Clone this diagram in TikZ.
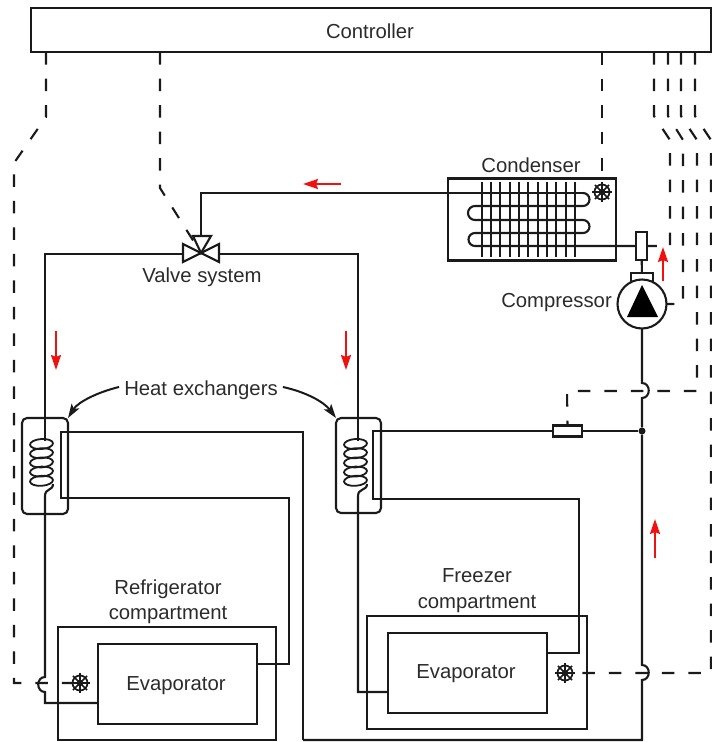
\documentclass[tikz,border=0pt]{standalone}
\usepackage{fontspec}
\setmainfont{Liberation Sans}
\usepackage{tikz}
\usetikzlibrary{arrows.meta,calc}
\definecolor{ink}{HTML}{1A1A1A}
\definecolor{txt}{HTML}{2B2B2B}
\definecolor{flow}{HTML}{F01010}
\tikzset{
  pipe/.style={draw=ink,line width=2.1pt,line join=miter},
  signal/.style={draw=ink,line width=2.1pt,dash pattern=on 12.5pt off 14pt},
  box/.style={draw=ink,line width=2.1pt,outer sep=0pt,inner sep=0pt},
  lab/.style={font=\fontsize{20.3}{25.5}\selectfont,text=txt,align=center,inner sep=0pt},
  arr/.style={-{Stealth[length=15pt,width=10pt,inset=2pt]},draw=flow,line width=2pt},
  callout/.style={-{Stealth[length=14pt,width=9pt,inset=3pt]},draw=ink,line width=2pt},
  wheel/.style={circle,draw=ink,line width=1.7pt,minimum size=15pt,inner sep=0pt,outer sep=0pt},
}
% fan symbol, \fan{name}{x,y}
\newcommand{\fan}[2]{
  \node[wheel] (#1) at (#2) {};
  \draw[ink,line width=1.5pt] (#1.center) circle (2.5);
  \foreach \a in {0,45,...,315}{
    \draw[ink,line width=1.5pt] (#1.center) -- ++(\a:10);
  }
}
% heat exchanger coil, \coil{x}{y}
\newcommand{\coil}[2]{
  \foreach \k in {0,1,2,3,4}{
    \draw[ink,line width=1.8pt,rotate around={4:(#1,#2+\k*9.2)}] (#1,#2+\k*9.2) ellipse [x radius=11.5,y radius=5];
  }
}
\begin{document}
\begin{tikzpicture}[x=1pt,y=-1pt]
\useasboundingbox (0,0) rectangle (712,742);
% controller
\node[box,minimum width=680pt,minimum height=44pt] (controller) at (371,30) {};
\node[lab] at (370,31) {Controller};
% condenser
\node[box,minimum width=168pt,minimum height=82pt] (condenser) at (532,219.5) {};
\node[lab] at (531,165) {Condenser};
\foreach \i in {0,...,10}{
  \draw[ink,line width=1.8pt] (481.7+\i*9.33,182) -- (481.7+\i*9.33,257);
}
% compressor and its valve
\node[box,minimum width=11pt,minimum height=28pt] (solenoid) at (641.5,246) {};
\node[box,minimum width=22pt,minimum height=10pt] (head) at (642,278) {};
\node[box,circle,fill=white,minimum size=49pt] (compressor) at (642,304) {};
\fill[black] (642,285) -- (658,317) -- (627,317) -- cycle;
\node[lab,anchor=east] at (612,303) {Compressor};
% heat exchangers
\node[box,rounded corners=5pt,minimum width=46pt,minimum height=96pt] (hxa) at (45,466) {};
\node[box,rounded corners=5pt,minimum width=45pt,minimum height=95pt] (hxb) at (358.5,465.5) {};
\node[lab] (hxlabel) at (201,390) {Heat exchangers};
\draw[callout] (hxlabel.west) ++(-5,-3) .. controls (98,392) and (78,402) .. (hxa.north east);
\draw[callout] (hxlabel.east) ++(5,-3) .. controls (306,392) and (324,402) .. (hxb.north west);
\coil{41.5}{444}
\coil{355.5}{444}
% compartments
\node[box,minimum width=218pt,minimum height=113pt] (fridge) at (167,683.5) {};
\node[box,minimum width=159pt,minimum height=80pt] (evapa) at (177.5,684) {};
\node[lab] at (176,685.5) {Evaporator};
\node[lab] at (168,601.5) {Refrigerator\\compartment};
\node[box,minimum width=220pt,minimum height=113pt] (freezer) at (477,672.5) {};
\node[box,minimum width=159pt,minimum height=80pt] (evapb) at (467.5,673) {};
\node[lab] at (466,674) {Evaporator};
\node[lab] at (477,590.5) {Freezer\\compartment};
% resistor and junction
\node[box,minimum width=29pt,minimum height=11pt] (resistor) at (567.5,431) {};
\node[circle,fill=ink,minimum size=7pt,inner sep=0pt] (junction) at (642,431) {};
% fans
\fan{fanc}{602,192}
\fan{fana}{80,683}
\fan{fanb}{565,673}
% refrigerant
\coordinate (valve) at (201,253);
\draw[pipe] (583,193) -- (201,193) -- (201,236);
\draw[pipe] (583,193) arc[start angle=-90,end angle=90,radius=6.5] -- (475,206)
  arc[start angle=-90,end angle=-270,radius=7] -- (583,220)
  arc[start angle=-90,end angle=90,radius=6.5] -- (475,233)
  arc[start angle=-90,end angle=-270,radius=6.5] -- (solenoid.west |- 0,246);
\draw[pipe] (solenoid) -- (head);
\draw[pipe] (183,254) -- (45,254) -- (45,441);
\draw[pipe] (219,254) -- (358,254) -- (358,441);
\draw[pipe] (53,484) .. controls (53,491) and (45,488) .. (45,496) -- (45,677)
  .. controls (36,677) and (36,692) .. (45,692) -- (45,703) -- (evapa.west |- 0,703);
\draw[pipe] (367,484) .. controls (367,491) and (358,488) .. (358,496) -- (358,692) -- (evapb.west |- 0,692);
\draw[pipe] (303,740) -- (303,432) -- (61,432) -- (61,498) -- (289,498) -- (289,664) -- (evapa.east |- 0,664);
\draw[pipe] (resistor.west) -- (373,431) -- (373,499) -- (579,499) -- (579,653) -- (evapb.east |- 0,653);
\draw[pipe] (resistor.east) -- (junction);
\draw[pipe] (compressor.south) -- (642,383) .. controls (651,383) and (651,398) .. (642,398) -- (junction);
\draw[pipe] (junction) -- (642,665) .. controls (651,665) and (651,680) .. (642,680) -- (642,740) -- (303,740);
% controller signals
\draw[signal] (46,0 |- controller.south) -- (46,117) -- (14,163) -- (14,683) -- (fana.west);
\draw[signal] (160,0 |- controller.south) -- (160,188) -- (valve);
\draw[signal] (602,0 |- controller.south) -- (fanc.north);
\draw[signal] (654,0 |- controller.south) -- (654,116) -- (670,140) -- (670,246) -- (solenoid.east);
\draw[signal] (668,0 |- controller.south) -- (668,116) -- (683,140) -- (683,304) -- (compressor.east);
\draw[signal] (681,0 |- controller.south) -- (681,116) -- (697,140) -- (697,391) -- (567,391) -- (resistor.north);
\draw[signal] (695,0 |- controller.south) -- (695,116) -- (711,140) -- (711,673) -- (fanb.east);
% valve system
\draw[box,fill=white] (valve) -- (193,236) -- (211,236) -- cycle;
\draw[box,fill=white] (valve) -- (183,244) -- (183,262) -- cycle;
\draw[box,fill=white] (valve) -- (219,244) -- (219,262) -- cycle;
\node[lab] at (202,277) {Valve system};
% flow direction
\draw[arr] (341,184) -- (303,184);
\draw[arr] (56,331) -- (56,370);
\draw[arr] (346,331) -- (346,370);
\draw[arr] (663,281) -- (663,247);
\draw[arr] (655,558) -- (655,519);
\end{tikzpicture}
\end{document}
